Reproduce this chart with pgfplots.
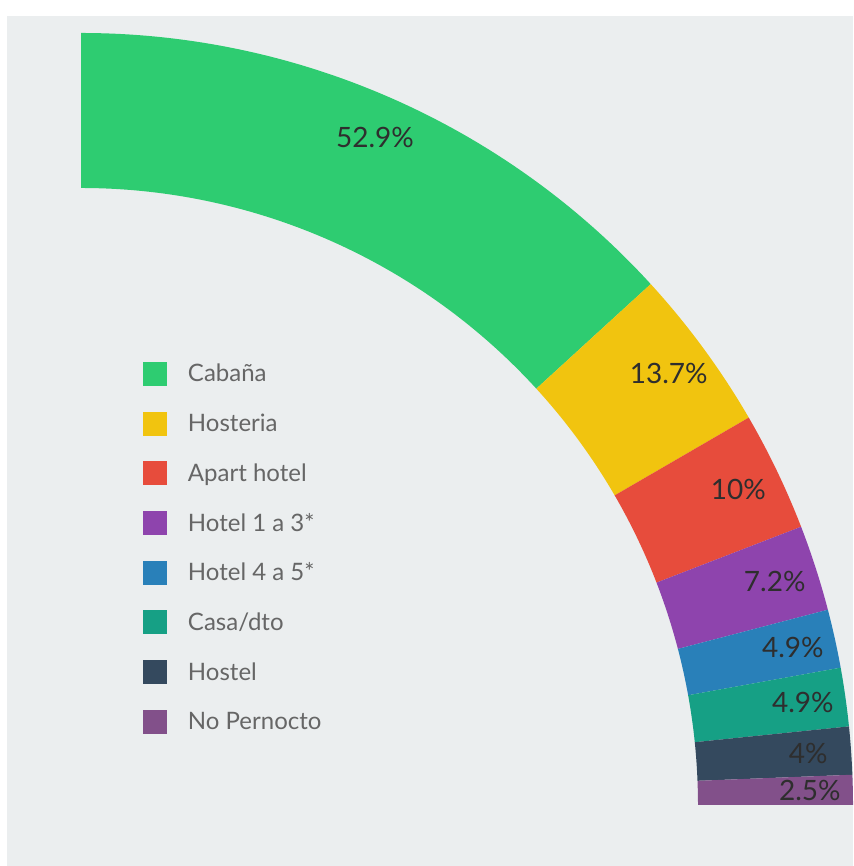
\documentclass[border=0pt]{standalone}
\usepackage{pgfplots}
\pgfplotsset{compat=1.18}
\usepackage{pgfplotstable}
\usepackage{fontspec}
\setmainfont{Lato}
\definecolor{bg}{HTML}{EBEEEF}
\definecolor{seg0}{HTML}{2ECC71}
\definecolor{seg1}{HTML}{F1C40F}
\definecolor{seg2}{HTML}{E74C3C}
\definecolor{seg3}{HTML}{8E44AD}
\definecolor{seg4}{HTML}{2980B9}
\definecolor{seg5}{HTML}{16A085}
\definecolor{seg6}{HTML}{34495E}
\definecolor{seg7}{HTML}{82508A}
\definecolor{legtext}{HTML}{666666}
\definecolor{pcttext}{HTML}{2E2E2E}

\pgfplotstableread[col sep=comma]{
name,value
Cabaña,52.9
Hosteria,13.7
Apart hotel,10
Hotel 1 a 3*,7.2
Hotel 4 a 5*,4.9
Casa/dto,4.9
Hostel,4
No Pernocto,2.5
}\shares

% total of all shares
\xdef\total{0}
\foreach \i in {0,...,7}{%
  \pgfplotstablegetelem{\i}{value}\of\shares
  \pgfmathsetmacro\tmp{\total+\pgfplotsretval}%
  \xdef\total{\tmp}%
}

\begin{document}
\begin{tikzpicture}
\begin{axis}[
  x=1pt, y=1pt,
  xmin=0, xmax=853, ymin=0, ymax=866,
  hide axis, clip=false,
  legend cell align=left,
  legend image code/.code={\fill[#1,draw=none] (0pt,-4pt) rectangle (24pt,20pt);},
  legend style={
    at={(axis description cs:0.16764,0.58199)}, anchor=north west,
    draw=none, fill=none, inner sep=0pt, outer sep=0pt,
    row sep=25.7pt, column sep=21pt,
    font=\fontsize{24}{28}\selectfont, text=legtext,
    nodes={inner sep=0pt, text height=20pt, text depth=4pt, anchor=base west},
  },
]
\fill[white] (axis cs:0,0) rectangle (axis cs:853,866);
\fill[bg] (axis cs:7,0) rectangle (axis cs:853,850);

\xdef\cum{0}
\pgfplotsforeachungrouped \i in {0,...,7}{%
  \pgfplotstablegetelem{\i}{value}\of\shares
  \let\v\pgfplotsretval
  \pgfplotstablegetelem{\i}{name}\of\shares
  \let\nm\pgfplotsretval
  \pgfmathsetmacro\aA{90-90*\cum/\total}%
  \pgfmathsetmacro\cumn{\cum+\v}%
  \pgfmathsetmacro\aB{90-90*\cumn/\total}%
  \pgfmathsetmacro\aM{(\aA+\aB)/2}%
  \edef\doit{%
    \noexpand\fill[seg\i] ([shift={(\aA:772pt)}]axis cs:81,61)
      arc[start angle=\aA, end angle=\aB, radius=772pt]
      -- ([shift={(\aB:617pt)}]axis cs:81,61)
      arc[start angle=\aB, end angle=\aA, radius=617pt] -- cycle;
    \noexpand\node[font=\noexpand\fontsize{28}{32}\noexpand\selectfont, text=pcttext]
      at ([shift={(\aM:729pt)}]axis cs:81,61) {\v\noexpand\%};
    \noexpand\addlegendimage{fill=seg\i}
    \noexpand\addlegendentry{\nm}
  }%
  \doit
  \xdef\cum{\cumn}%
}
\end{axis}
\end{tikzpicture}
\end{document}
